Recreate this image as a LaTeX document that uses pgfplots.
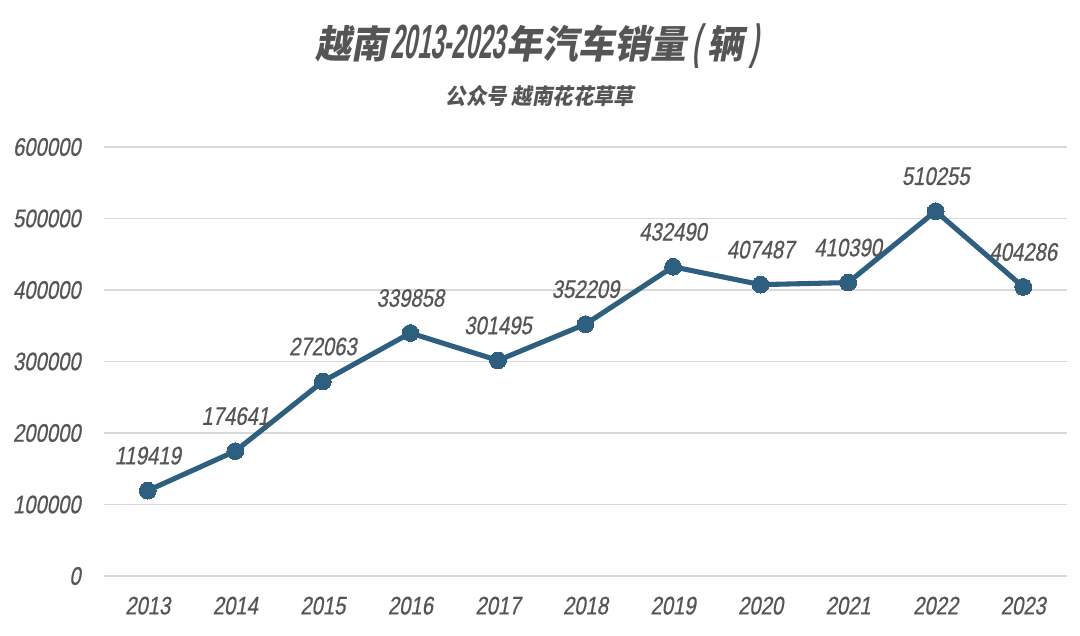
\documentclass[border=0pt]{standalone}
\usepackage{pgfplots}
\pgfplotsset{compat=1.18}
\usepackage{fontspec}
\setmainfont{Liberation Sans}[FakeStretch=0.8, FakeSlant=0.18, FakeBold=0.6]
\newfontfamily\titlenum{Liberation Sans}[FakeStretch=0.5, FakeSlant=0.18]
\newfontfamily\cjk{Noto Sans CJK SC}[FakeSlant=0.18, FakeStretch=0.93]
\definecolor{txt}{HTML}{555555}
\definecolor{linec}{HTML}{2E5F7F}
\definecolor{gridc}{HTML}{D9D9D9}
\pgfplotstableread{
x y
2013 119419
2014 174641
2015 272063
2016 339858
2017 301495
2018 352209
2019 432490
2020 407487
2021 410390
2022 510255
2023 404286
}\sales
\begin{document}
\begin{tikzpicture}[x=1pt,y=1pt]
\path[use as bounding box] (-78,-44.25) rectangle (732,432);
\begin{axis}[at={(0,0)}, anchor=south west, scale only axis,
  width=722.25pt, height=321.75pt,
  xmin=2012.5, xmax=2023.5, ymin=0, ymax=600000,
  axis line style={draw=none}, tick style={draw=none},
  ytick={0,100000,200000,300000,400000,500000,600000},
  xtick={2013,2014,2015,2016,2017,2018,2019,2020,2021,2022,2023},
  scaled y ticks=false,
  ymajorgrids, grid style={gridc, line width=1.1pt},
  /pgf/number format/assume math mode=true,
  /pgf/number format/1000 sep={},
  /pgf/number format/fixed,
  ticklabel style={font=\fontsize{19}{22}\selectfont, text=txt},
  xticklabel style={yshift=-12pt},
  yticklabel style={anchor=east, xshift=-14pt},
  clip=false,
]
\addplot[linec, line width=3.8pt, line join=round, mark=*, mark size=6.3pt,
  mark options={fill=linec, draw=linec, line width=0pt},
  point meta=explicit symbolic,
  nodes near coords,
  nodes near coords style={anchor=south, yshift=19.5pt, inner sep=0pt, text=txt,
    font=\fontsize{19}{22}\selectfont}]
  table[x=x, y=y, meta=y] {\sales};
\end{axis}
\node[text=txt, anchor=center] at (324.75,397.5)
  {\fontsize{29}{36}\selectfont\bfseries{\cjk 越南}\kern2pt{\fontsize{36}{40}\selectfont\titlenum\bfseries 2013-2023}\kern1pt{\cjk 年汽车销量}{\fontsize{36}{40}\selectfont\titlenum\bfseries\ ( }{\cjk 辆}{\fontsize{36}{40}\selectfont\titlenum\bfseries\ )}};
\node[text=txt, anchor=center] at (327,360)
  {\fontsize{16.5}{20}\selectfont\bfseries\cjk 公众号 越南花花草草};
\end{tikzpicture}
\end{document}
